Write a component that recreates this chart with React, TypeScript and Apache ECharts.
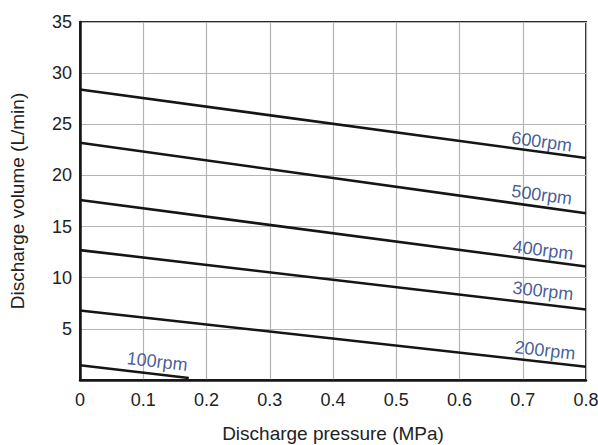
import React, { useEffect, useRef } from "react";
import * as echarts from "echarts";

const xStart = [0, 0, 0, 0, 0, 0];
const speeds = ["600rpm", "500rpm", "400rpm", "300rpm", "200rpm", "100rpm"];
const lineStartY = [28.4, 23.2, 17.6, 12.7, 6.8, 1.45];
const lineEndX = [0.8, 0.8, 0.8, 0.8, 0.8, 0.172];
const lineEndY = [21.7, 16.3, 11.1, 6.9, 1.3, 0.2];
const labelX = [0.73, 0.73, 0.732, 0.732, 0.735, 0.122];
const labelY = [23.3, 18.1, 12.7, 8.7, 2.9, 1.8];
const labelRotate = [-7.6, -7.5, -7.0, -6.3, -6.3, -6.5];

const xTicks = { min: 0, max: 0.8, interval: 0.1 };
const yTicks = { min: 0, max: 35, interval: 5 };

const FONT = "Liberation Sans, Arial, Helvetica, sans-serif";

export default function App() {
  const ref = useRef<HTMLDivElement>(null);
  useEffect(() => {
    if (!ref.current) return;
    const chart = echarts.init(ref.current, undefined, { renderer: "svg" });
    const lineSeries = speeds.map((s, i) => ({
      type: "line",
      name: s,
      data: [
        [xStart[i], lineStartY[i]],
        [lineEndX[i], lineEndY[i]],
      ],
      showSymbol: false,
      symbol: "none",
      lineStyle: { color: "#151515", width: 2.6 },
      z: 3,
    }));
    const labelSeries = {
      type: "scatter",
      symbolSize: 0,
      data: speeds.map((s, i) => ({
        value: [labelX[i], labelY[i]],
        label: {
          show: true,
          formatter: s,
          position: "inside",
          rotate: labelRotate[i],
          color: "#143480",
          fontSize: 18,
          fontFamily: FONT,
        },
      })),
      silent: true,
      z: 4,
    };
    chart.setOption({
      animation: false,
      backgroundColor: "#ffffff",
      grid: {
        left: 80,
        right: 12,
        top: 22,
        bottom: 65,
        show: true,
        borderColor: "#2a2a2a",
        borderWidth: 2,
        containLabel: false,
        outerBoundsMode: "none",
      },
      xAxis: {
        type: "value",
        min: xTicks.min,
        max: xTicks.max,
        interval: xTicks.interval,
        name: "Discharge pressure (MPa)",
        nameLocation: "middle",
        nameGap: 44,
        nameTextStyle: { color: "#222", fontSize: 19, fontFamily: FONT },
        axisLine: { show: true, onZero: false, lineStyle: { color: "#151515", width: 2.5 } },
        axisTick: { show: false },
        axisLabel: {
          color: "#222",
          fontSize: 18,
          fontFamily: FONT,
          margin: 11,
          formatter: (v: number) => (v === 0 ? "0" : v.toFixed(1)),
        },
        splitLine: { show: true, lineStyle: { color: "#b4b4b4", width: 1.2 } },
      },
      yAxis: {
        type: "value",
        min: yTicks.min,
        max: yTicks.max,
        interval: yTicks.interval,
        name: "Discharge volume (L/min)",
        nameLocation: "middle",
        nameGap: 53,
        nameTextStyle: { color: "#222", fontSize: 19, fontFamily: FONT },
        axisLine: { show: true, onZero: false, lineStyle: { color: "#151515", width: 2.5 } },
        axisTick: { show: false },
        axisLabel: {
          color: "#222",
          fontSize: 18,
          fontFamily: FONT,
          margin: 8,
          formatter: (v: number) => (v === 0 ? "" : String(v)),
        },
        splitLine: { show: true, lineStyle: { color: "#b4b4b4", width: 1.2 } },
      },
      series: [...lineSeries, labelSeries],
    });
    return () => chart.dispose();
  }, []);
  return (
    <div
      ref={ref}
      style={{ position: "absolute", left: 0, top: 0, width: 598, height: 445, background: "#fff" }}
    />
  );
}
